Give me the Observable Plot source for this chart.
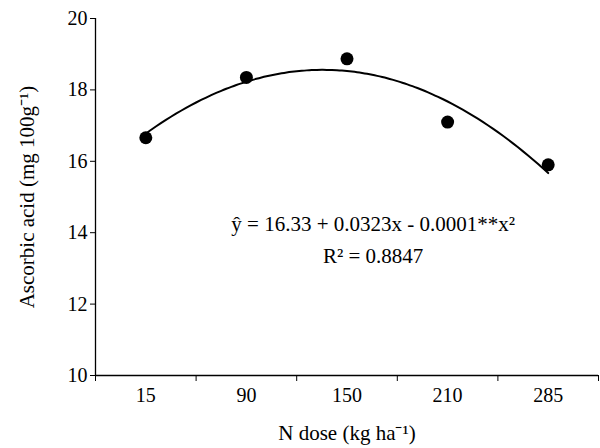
<!DOCTYPE html>
<html><head><meta charset="utf-8">
<script src="https://cdn.jsdelivr.net/npm/d3@7"></script>
<script src="https://cdn.jsdelivr.net/npm/@observablehq/plot@0.6"></script>
<style>body{margin:0;background:#fff}</style>
</head><body><div id="chart"></div>
<script>
const doses = ["15", "90", "150", "210", "285"]
const acid = [16.66, 18.35, 18.87, 17.1, 15.9]

const pts = doses.map((d, i) => ({i, d, y: acid[i]}))

// quadratic least-squares fit on position index (centred)
const n = acid.length, tc = pts.map(p => p.i - 2)
const st2 = d3.sum(tc, t => t * t), st4 = d3.sum(tc, t => t ** 4)
const sy = d3.sum(acid), sty = d3.sum(pts, (p, k) => tc[k] * p.y), st2y = d3.sum(pts, (p, k) => tc[k] ** 2 * p.y)
const b = sty / st2
const c = (st2y - st2 * sy / n) / (st4 - st2 * st2 / n)
const a = (sy - c * st2) / n
const fit = d3.range(0, 4.001, 0.05).map(x => ({x, y: a + b * (x - 2) + c * (x - 2) ** 2}))

const font = "Liberation Serif, Times New Roman, serif"
const chart = Plot.plot({
  width: 600, height: 448,
  marginTop: 18, marginBottom: 73, marginLeft: 95, marginRight: 2,
  style: {fontFamily: font, fontSize: "20px", color: "#000", background: "#fff"},
  x: {domain: [-0.5, 4.5]},
  y: {domain: [10, 20]},
  marks: [
    Plot.ruleX([-0.5], {stroke: "#000", strokeWidth: 1.3}),
    Plot.ruleY([10], {stroke: "#000", strokeWidth: 1.3}),
    Plot.axisY({ticks: d3.range(10, 21, 2), tickSize: 5, tickPadding: 3, label: null, fontSize: 20}),
    Plot.axisX({ticks: d3.range(-0.5, 4.6, 1), tickSize: 6, tickFormat: () => "", label: null}),
    Plot.axisX({ticks: d3.range(0, 5), tickSize: 0, tickPadding: 12, tickFormat: i => doses[i], label: null, fontSize: 20}),
    Plot.line(fit, {x: "x", y: "y", stroke: "#000", strokeWidth: 2, curve: "basis"}),
    Plot.dot(pts, {x: "i", y: "y", r: 6.5, fill: "#000"}),
    Plot.text(["ŷ = 16.33 + 0.0323x - 0.0001**x²"], {x: 2.26, y: 14.06, frameAnchor: "middle", lineAnchor: "bottom", fontSize: 21}),
    Plot.text(["R² = 0.8847"], {x: 2.26, y: 13.14, lineAnchor: "bottom", fontSize: 21}),
    Plot.text(["N dose (kg ha⁻¹)"], {x: 2, y: 10, dy: 64, lineAnchor: "bottom", fontSize: 21}),
    Plot.text(["Ascorbic acid (mg 100g⁻¹)"], {x: -0.5, y: 15, dx: -68, rotate: -90, fontSize: 21})
  ]
})
document.getElementById("chart").append(chart)
</script></body></html>
